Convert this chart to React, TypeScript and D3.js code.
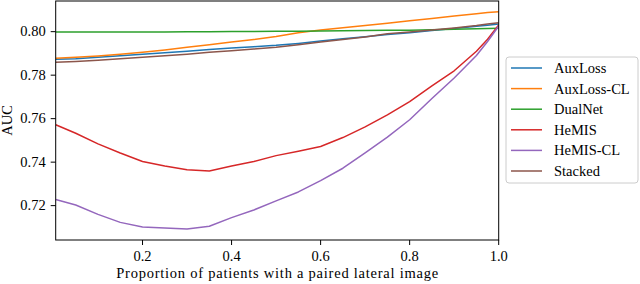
import React from 'react'
import * as d3 from 'd3'

// proportion of patients with a paired lateral image
const proportion = [0.005, 0.05, 0.1, 0.15, 0.2, 0.25, 0.3, 0.35, 0.4, 0.45, 0.5, 0.55, 0.6, 0.65, 0.7, 0.75, 0.8, 0.85, 0.9, 0.95, 0.975, 1.0]

const auxLoss = [0.7873, 0.7876, 0.7882, 0.7889, 0.7896, 0.7903, 0.791, 0.7918, 0.7925, 0.7931, 0.7937, 0.7946, 0.7957, 0.7967, 0.7977, 0.7987, 0.7995, 0.8005, 0.8015, 0.8025, 0.803, 0.8035]
const auxLossCL = [0.7878, 0.7882, 0.7888, 0.7896, 0.7905, 0.7916, 0.7928, 0.794, 0.7952, 0.7964, 0.7978, 0.7995, 0.8008, 0.8018, 0.8028, 0.8039, 0.805, 0.8061, 0.8072, 0.8082, 0.8088, 0.8092]
const dualNet = [0.7998, 0.7998, 0.7998, 0.7999, 0.7999, 0.7999, 0.8, 0.8, 0.8001, 0.8001, 0.8002, 0.8002, 0.8003, 0.8004, 0.8005, 0.8006, 0.8007, 0.8009, 0.8011, 0.8013, 0.8015, 0.8016]
const heMIS = [0.7572, 0.7533, 0.7484, 0.7442, 0.7403, 0.7382, 0.7365, 0.7359, 0.7382, 0.7403, 0.743, 0.745, 0.7472, 0.7513, 0.7562, 0.7617, 0.7678, 0.7751, 0.782, 0.791, 0.7965, 0.8031]
const heMISCL = [0.7228, 0.7203, 0.716, 0.7123, 0.7102, 0.7097, 0.7093, 0.7105, 0.7145, 0.718, 0.7222, 0.7263, 0.7315, 0.7372, 0.7443, 0.7515, 0.7595, 0.7693, 0.7787, 0.789, 0.7955, 0.8026]
const stacked = [0.7859, 0.7863, 0.7868, 0.7875, 0.7882, 0.7889, 0.7896, 0.7905, 0.7912, 0.792, 0.7928, 0.794, 0.7953, 0.7964, 0.7976, 0.799, 0.7999, 0.8008, 0.8017, 0.8028, 0.8035, 0.8041]

const seriesNames = ['AuxLoss', 'AuxLoss-CL', 'DualNet', 'HeMIS', 'HeMIS-CL', 'Stacked']
const seriesValues = [auxLoss, auxLossCL, dualNet, heMIS, heMISCL, stacked]
const colors = ['#1f77b4', '#ff7f0e', '#2ca02c', '#d62728', '#9467bd', '#8c564b']

const xTicks = [0.2, 0.4, 0.6, 0.8, 1.0]
const yTicks = [0.72, 0.74, 0.76, 0.78, 0.8]

const W = 640
const H = 284
const font = '"Liberation Serif", "DejaVu Serif", serif'
const fontSize = 14.5

const App = () => {
  const left = 55.7
  const right = 498.7
  const top = 1
  const bottom = 240

  const x = d3.scaleLinear().domain([0.005, 1.0]).range([left, right])
  const y = d3.scaleLinear().domain([0.7042, 0.8141]).range([bottom, top])

  const line = d3.line<number>()
    .x((d, i) => x(proportion[i]))
    .y(d => y(d))

  const fmtX = d3.format('.1f')
  const fmtY = d3.format('.2f')

  // legend
  const lgLeft = 506
  const lgTop = 57
  const lgWidth = 132
  const lgHeight = 126
  const rowH = 20.6

  return (
    <svg width={W} height={H} style={{ position: 'absolute', left: 0, top: 0 }}
      fontFamily={font} fontSize={fontSize}>
      <rect width={W} height={H} fill="white" />
      <defs>
        <clipPath id="plot">
          <rect x={left} y={top} width={right - left} height={bottom - top} />
        </clipPath>
      </defs>

      <g clipPath="url(#plot)">
        {seriesValues.map((vals, i) => (
          <path key={seriesNames[i]} d={line(vals) || ''} fill="none"
            stroke={colors[i]} strokeWidth={1.5} strokeLinejoin="round" />
        ))}
      </g>

      <rect x={left} y={top} width={right - left} height={bottom - top}
        fill="none" stroke="black" strokeWidth={1} />

      {xTicks.map(t => (
        <g key={t} transform={`translate(${x(t)},${bottom})`}>
          <line y2={5} stroke="black" strokeWidth={1} />
          <text y={21} textAnchor="middle">{fmtX(t)}</text>
        </g>
      ))}
      {yTicks.map(t => (
        <g key={t} transform={`translate(${left},${y(t)})`}>
          <line x2={-5} stroke="black" strokeWidth={1} />
          <text x={-10} dy="0.32em" textAnchor="end">{fmtY(t)}</text>
        </g>
      ))}

      <text x={(left + right) / 2} y={278} textAnchor="middle"
        textLength={322} lengthAdjust="spacing">
        Proportion of patients with a paired lateral image
      </text>
      <text transform={`translate(12,${(top + bottom) / 2}) rotate(-90)`} textAnchor="middle">
        AUC
      </text>

      <rect x={lgLeft} y={lgTop} width={lgWidth} height={lgHeight} rx={3}
        fill="white" fillOpacity={0.8} stroke="#cccccc" strokeWidth={1} />
      {seriesNames.map((name, i) => {
        const cy = lgTop + 11 + i * rowH
        return (
          <g key={name}>
            <line x1={lgLeft + 5} x2={lgLeft + 36} y1={cy} y2={cy}
              stroke={colors[i]} strokeWidth={1.5} />
            <text x={lgLeft + 48} y={cy} dy="0.35em">{name}</text>
          </g>
        )
      })}
    </svg>
  )
}

export default App
